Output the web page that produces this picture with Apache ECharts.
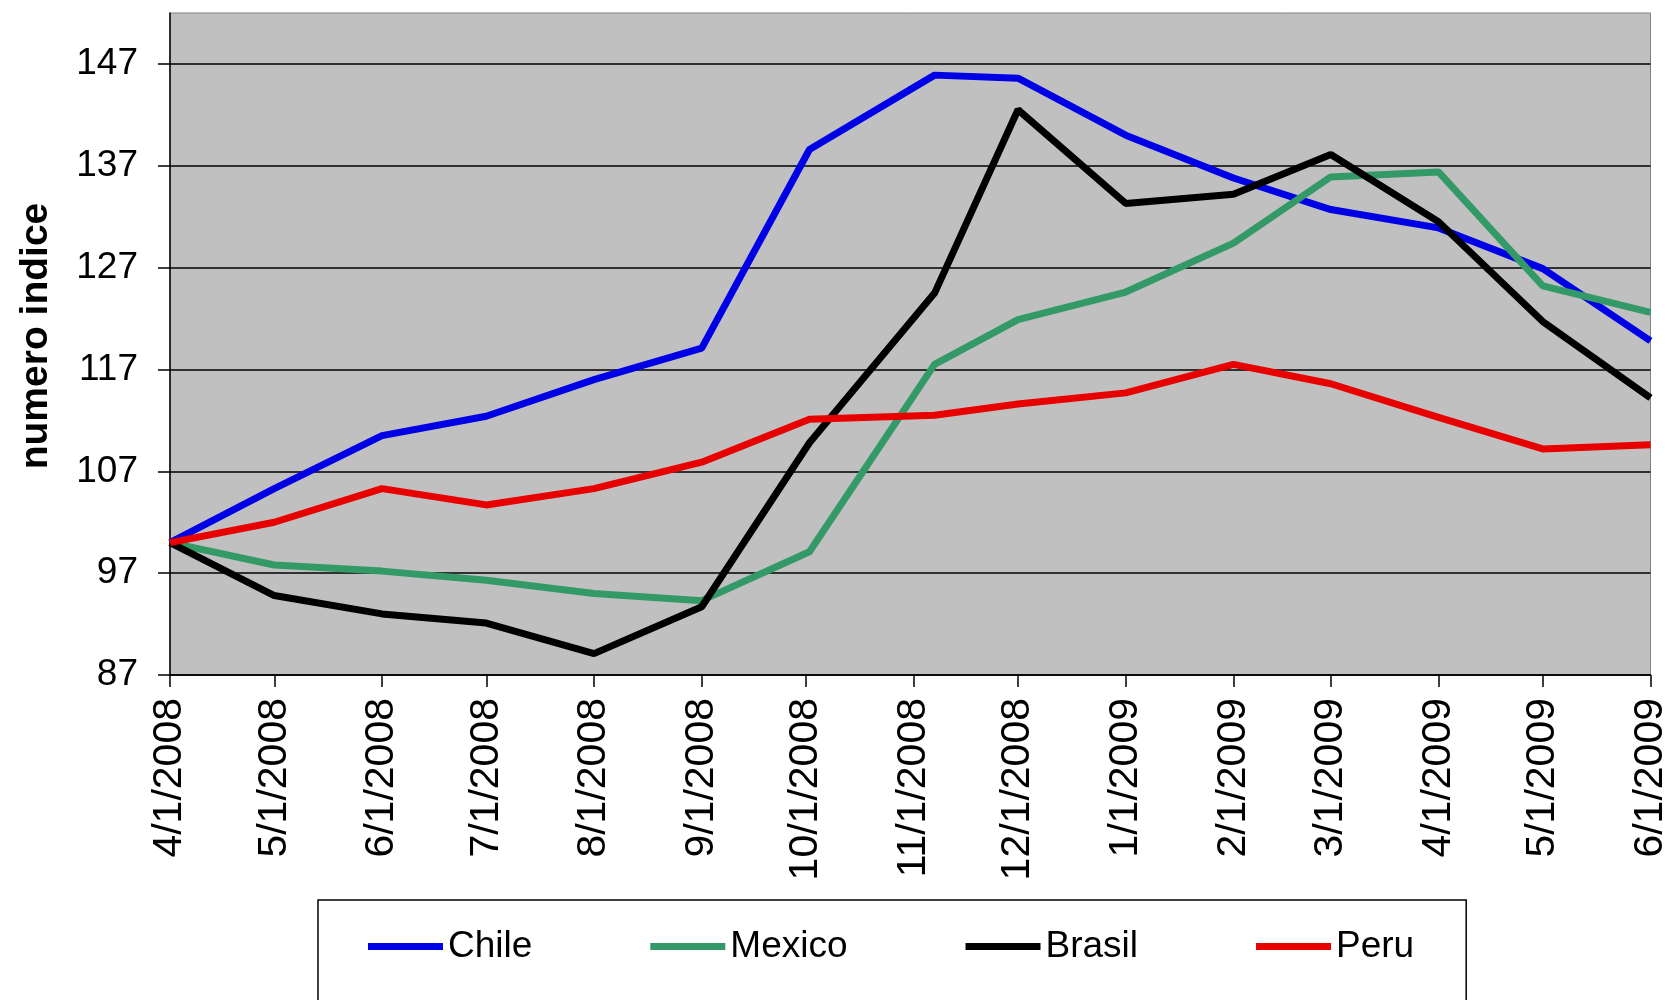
<!DOCTYPE html>
<html>
<head>
<meta charset="utf-8">
<title>numero indice</title>
<script src="https://cdn.jsdelivr.net/npm/echarts@6/dist/echarts.min.js"></script>
<style>
  html, body { margin: 0; padding: 0; background: #fff; }
  #chart { width: 1671px; height: 1000px; }
</style>
</head>
<body>
<div id="chart"></div>
<script>
// observation dates (two points fall a few days after the 1st)
const dates = ['2008-04-01', '2008-05-01', '2008-06-01', '2008-07-01', '2008-08-01', '2008-09-01',
    '2008-10-02', '2008-11-07', '2008-12-01', '2009-01-01', '2009-02-01', '2009-03-01',
    '2009-04-01', '2009-05-01', '2009-06-01'];

const chile  = [100, 105.3, 110.5, 112.4, 116.0, 119.1, 138.6, 145.9, 145.6, 140.0, 135.8, 132.7, 130.9, 126.9, 119.8];
const mexico = [100, 97.8, 97.2, 96.3, 95.0, 94.3, 99.1, 117.5, 121.9, 124.6, 129.4, 135.9, 136.4, 125.2, 122.6];
const brasil = [100, 94.8, 93.0, 92.1, 89.1, 93.7, 109.8, 124.5, 142.5, 133.3, 134.2, 138.1, 131.5, 121.7, 114.2];
const peru   = [100, 102.0, 105.3, 103.7, 105.3, 107.9, 112.1, 112.5, 113.6, 114.7, 117.5, 115.6, 112.3, 109.2, 109.6];

// x tick labels (first of each month) and y tick labels
const xTicks = ['2008-04-01', '2008-05-01', '2008-06-01', '2008-07-01', '2008-08-01', '2008-09-01',
    '2008-10-01', '2008-11-01', '2008-12-01', '2009-01-01', '2009-02-01', '2009-03-01',
    '2009-04-01', '2009-05-01', '2009-06-01'];
const yTicks = [87, 97, 107, 117, 127, 137, 147];

const FONT = '"Liberation Sans", Arial, sans-serif';

function toTime(s) {
    const p = s.split('-').map(Number);
    return new Date(p[0], p[1] - 1, p[2]).getTime();
}

function fmtDate(v) {
    const d = new Date(v);
    return (d.getMonth() + 1) + '/' + d.getDate() + '/' + d.getFullYear();
}

function pairs(values) {
    return values.map((v, i) => [toTime(dates[i]), v]);
}

const chart = echarts.init(document.getElementById('chart'));

const lineSeries = (name, color, values) => ({
    name: name,
    type: 'line',
    data: pairs(values),
    showSymbol: false,
    symbol: 'none',
    lineStyle: { color: color, width: 7 },
    itemStyle: { color: color },
    animation: false
});

const xTickTimes = xTicks.map(toTime);

const option = {
    backgroundColor: '#ffffff',
    textStyle: { fontFamily: FONT },
    grid: {
        left: 170,
        right: 17,
        top: 13,
        bottom: 325,
        show: true,
        backgroundColor: '#c0c0c0',
        borderColor: '#808080',
        borderWidth: 1
    },
    xAxis: {
        type: 'value',
        min: xTickTimes[0],
        max: xTickTimes[xTickTimes.length - 1],
        axisLine: { show: true, lineStyle: { color: '#000', width: 1.5 } },
        axisTick: {
            show: true,
            length: 12,
            lineStyle: { color: '#000', width: 1.5 },
            customValues: xTickTimes
        },
        axisLabel: {
            customValues: xTickTimes,
            rotate: 90,
            margin: 23,
            color: '#000',
            fontSize: 41,
            fontFamily: FONT,
            formatter: fmtDate
        },
        splitLine: { show: false }
    },
    yAxis: {
        type: 'value',
        min: 87,
        max: 152,
        interval: 10,
        name: 'numero indice',
        nameLocation: 'middle',
        nameGap: 114,
        nameTextStyle: {
            color: '#000', fontSize: 39, fontWeight: 'bold', fontFamily: FONT,
            padding: [0, 0, 0, 16]
        },
        axisLine: { show: true, lineStyle: { color: '#000', width: 1.5 } },
        axisTick: {
            show: true,
            length: 12,
            lineStyle: { color: '#000', width: 1.5 },
            customValues: yTicks
        },
        axisLabel: {
            customValues: yTicks,
            margin: 32,
            color: '#000',
            fontSize: 37,
            fontFamily: FONT
        },
        splitLine: { show: true, lineStyle: { color: '#000', width: 1.5 } }
    },
    legend: {
        left: 318,
        top: 900,
        padding: [28, 52, 70, 50],
        borderColor: '#000',
        borderWidth: 1.5,
        icon: 'rect',
        itemWidth: 75,
        itemHeight: 7,
        itemGap: 118,
        textStyle: { color: '#000', fontSize: 37, fontFamily: FONT },
        data: ['Chile', 'Mexico', 'Brasil', 'Peru']
    },
    series: [
        lineSeries('Chile', '#0000e6', chile),
        lineSeries('Mexico', '#339966', mexico),
        lineSeries('Brasil', '#000000', brasil),
        lineSeries('Peru', '#e80000', peru)
    ]
};

chart.setOption(option);
</script>
</body>
</html>
